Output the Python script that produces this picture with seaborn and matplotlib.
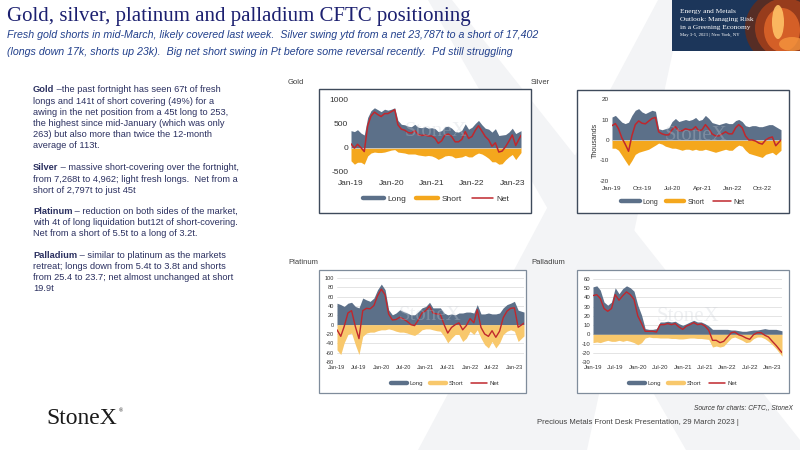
import numpy as np
import pandas as pd
import matplotlib
matplotlib.use("Agg")
import matplotlib.pyplot as plt
import matplotlib.dates as mdates
import seaborn as sns
from matplotlib.patches import Rectangle, Polygon, Ellipse
from matplotlib.lines import Line2D

# ---------------- data (monthly readings, Jan-2019 .. Mar-2023) ----------------
dates = list(pd.date_range("2019-01-01", "2023-02-01", freq="MS")) + [pd.Timestamp("2023-03-21")]

gold_long = [350, 330, 370, 300, 260, 620, 760, 820, 780, 740, 790, 770,
             790, 820, 560, 480, 470, 440, 430, 480, 420, 410, 430, 400,
             410, 390, 330, 350, 430, 440, 400, 330, 320, 360, 490, 380,
             420, 500, 560, 470, 400, 380, 320, 390, 250, 260, 270, 320,
             400, 290, 350]
gold_short = [-270, -340, -300, -300, -340, -170, -110, -90, -100, -100, -90, -70,
              -50, -40, -90, -100, -110, -130, -130, -130, -150, -160, -170, -160,
              -170, -200, -240, -210, -170, -160, -170, -210, -200, -190, -160, -190,
              -190, -140, -110, -130, -170, -220, -290, -290, -340, -330, -250, -190,
              -140, -245, -100]
gold_net = [80, -10, 70, 0, -80, 450, 650, 730, 680, 640, 700, 700,
            740, 780, 470, 380, 360, 310, 300, 350, 270, 250, 260, 240,
            240, 190, 90, 140, 260, 280, 230, 120, 120, 170, 330, 190,
            230, 360, 450, 340, 230, 160, 30, 100, -90, -70, 20, 130,
            260, 45, 253]

silver_long = [11.2, 12, 10.4, 8.7, 8, 8.7, 12, 14.5, 15.3, 13.7, 12.9, 13.7,
               14.5, 14.0, 5.5, 5, 5.5, 6, 9, 10.5, 9, 9.5, 10, 9.5,
               10, 11, 9.5, 10, 12, 10.5, 8.5, 8, 7.5, 8, 8.5, 8,
               8, 9.5, 10, 9, 7, 6.5, 7, 7, 6.5, 6.5, 7, 7.5,
               7.5, 6.5, 5]
silver_short = [-4, -4, -5, -7.5, -10, -12.5, -10, -7, -6, -5.5, -5, -4.5,
                -3.5, -2.5, -1.5, -2, -3, -3.5, -4, -4, -4.5, -5, -4.5, -4.5,
                -5, -4.5, -5, -5, -4.5, -5, -5.5, -6, -5.5, -5, -4.5, -5,
                -5, -3.5, -2.5, -3, -5, -6.5, -7, -7.5, -8, -8.5, -7, -6.5,
                -6, -7.3, -5]
silver_net = [7, 8, 5.5, 1, -2, -5.5, 2, 7.5, 9.3, 8.2, 7.9, 9.2,
              10.5, 11, 4, 3, 2.5, 2.5, 5, 6.5, 4.5, 4.5, 5.5, 5,
              5, 6.5, 4.5, 5, 7.5, 5.5, 3, 2, 2, 3, 4, 3,
              3, 6, 7.5, 6, 2, 0, 0, -0.5, -1.5, -2, 0, 1,
              1.5, -2.8, 0.05]

plat_long = [46, 43, 39, 46, 48, 39, 36, 57, 53, 50, 57, 75,
             87, 75, 32, 21, 25, 32, 28, 25, 21, 21, 28, 36,
             39, 48, 36, 36, 36, 25, 21, 23, 21, 25, 25, 27,
             27, 25, 43, 23, 23, 25, 23, 23, 25, 36, 43, 46,
             50, 31, 27]
plat_short = [-54, -64, -39, -21, -18, -43, -64, -25, -18, -16, -16, -13,
              -11, -11, -9, -11, -14, -16, -16, -18, -21, -23, -18, -11,
              -9, -9, -11, -13, -14, -25, -39, -29, -21, -21, -36, -29,
              -14, -21, -11, -29, -43, -50, -36, -50, -39, -21, -14, -11,
              -14, -36, -24]
plat_net = [-11, -25, -4, 25, 30, -4, -30, 30, 35, 34, 41, 62,
            76, 64, 23, 10, 11, 16, 12, 7, 0, -2, 10, 25,
            30, 40, 25, 23, 22, 0, -18, -6, 0, 4, -11, -2,
            13, 4, 32, -6, -20, -25, -13, -27, -14, 15, 29, 35,
            36, -5.5, 3.2]

pall_long = [51.5, 52.6, 48, 35, 31.6, 35, 50.5, 44, 49.7, 52.6, 50.5, 46.8,
             31.6, 20.7, 6.2, 5.4, 5.4, 6.2, 13.4, 13.4, 14.2, 13.4, 14.2, 11.6,
             9.8, 11.6, 13.4, 15.2, 13.4, 13.4, 11.6, 9.1, 5.4, 5.4, 5.4, 5.4,
             5.4, 4.7, 4.7, 4.0, 3.3, 3.3, 4.0, 4.7, 4.7, 5.4, 6.2, 5.4,
             5.4, 5.4, 3.8]
pall_short = [-9, -8.3, -9, -7.6, -6.5, -7.6, -7.6, -6.5, -7.6, -6.5, -7.6, -9,
              -11.3, -9, -4, -2.9, -3.6, -3.6, -4, -4, -4, -4.5, -4.5, -5,
              -5, -4.5, -4, -4, -4.5, -4.5, -5, -5.5, -13.8, -12.7, -13.8, -12.7,
              -8.3, -4, -2.9, -4.7, -6.5, -9, -8.3, -4.7, -2.9, -2.9, -4.7, -7.6,
              -11.3, -15.6, -23.7]
pall_net = [42, 43, 39, 28, 25, 28, 43, 37, 42, 46, 43, 38,
            20, 11.6, 3.3, 3.3, 3.3, 2.5, 10.5, 10.5, 11.6, 10.5, 11.6, 8,
            5.4, 9, 10.5, 12.7, 10.5, 11.3, 9, 4.4, -6.5, -6.5, -9, -7.6,
            -2.9, 1.8, 2.5, -0.4, -1.8, -4, -5.4, -0.4, 1.8, 1.8, -1, -2.9,
            -7.6, -12, -19.9]

series_labels = ["Long", "Short", "Net"]
gold_xticks = ["2019-01-01", "2020-01-01", "2021-01-01", "2022-01-01", "2023-01-01"]
gold_xlabels = ["Jan-19", "Jan-20", "Jan-21", "Jan-22", "Jan-23"]
silver_xticks = ["2019-01-01", "2019-10-01", "2020-07-01", "2021-04-01", "2022-01-01", "2022-10-01"]
silver_xlabels = ["Jan-19", "Oct-19", "Jul-20", "Apr-21", "Jan-22", "Oct-22"]
pp_xticks = ["2019-01-01", "2019-07-01", "2020-01-01", "2020-07-01", "2021-01-01", "2021-07-01",
             "2022-01-01", "2022-07-01", "2023-01-01"]
pp_xlabels = ["Jan-19", "Jul-19", "Jan-20", "Jul-20", "Jan-21", "Jul-21", "Jan-22", "Jul-22", "Jan-23"]

# ---------------- style ----------------
sns.set_theme(style="white")
plt.rcParams["font.family"] = ["Liberation Sans", "DejaVu Sans"]

W, H = 800, 450
fig = plt.figure(figsize=(8, 4.5), dpi=100)
fig.patch.set_facecolor("white")

def P(x, y):
    return (x / W, 1 - y / H)

def R(x0, y0, x1, y1):
    return [x0 / W, 1 - y1 / H, (x1 - x0) / W, (y1 - y0) / H]

LONG_C = "#5c7089"
GOLD_SHORT_C = "#f4a71d"
PP_SHORT_C = "#f8c86c"
NET_C = "#c0272d"
TEXT_C = "#2b3060"

# faint background X
for pts in [[(428, 0), (452, 0), (800, 440), (800, 450), (686, 450)],
            [(658, 0), (684, 0), (587, 450), (418, 450)]]:
    fig.add_artist(Polygon([P(x, y) for x, y in pts], closed=True, transform=fig.transFigure,
                           facecolor="#f3f4f6", edgecolor="none", zorder=-5))

xnum = mdates.date2num(dates)
x0 = mdates.date2num(pd.Timestamp("2019-01-01"))
x1 = mdates.date2num(pd.Timestamp("2023-03-21"))


def draw_chart(ax_rect, frame_rect, frame_c, frame_lw, long, short, net, short_c,
               ylim, yticks, xticks, xlabels, fs, leg_xy, leg_fs, grid, name, name_xy,
               ylabel=None, wm_fs=16, xpad=2, net_lw=1.1):
    fig.add_artist(Rectangle((frame_rect[0], frame_rect[1]), frame_rect[2], frame_rect[3],
                             transform=fig.transFigure, facecolor="white",
                             edgecolor=frame_c, lw=frame_lw, zorder=-1))
    ax = fig.add_axes(ax_rect)
    ax.set_facecolor("none")
    df = pd.DataFrame({"x": xnum, "long": long, "short": short, "net": net})
    ax.fill_between(df["x"], 0, df["long"], color=LONG_C, lw=0, zorder=2)
    ax.fill_between(df["x"], df["short"], 0, color=short_c, lw=0, zorder=2)
    sns.lineplot(data=df, x="x", y="net", ax=ax, color=NET_C, lw=net_lw, zorder=4)
    ax.set_xlim(x0, x1)
    ax.set_ylim(*ylim)
    ax.set_yticks(yticks)
    ax.set_yticklabels([str(v) for v in yticks])
    ax.set_xticks(mdates.date2num(pd.to_datetime(xticks)))
    ax.set_xticklabels(xlabels)
    ax.tick_params(axis="both", length=0, labelsize=fs, colors="#333333", pad=2)
    ax.tick_params(axis="x", pad=xpad)
    ax.set_xlabel("")
    ax.set_ylabel("")
    for s in ax.spines.values():
        s.set_visible(False)
    if grid:
        for v in yticks:
            ax.axhline(v, color="#d9d9d9", lw=0.5, zorder=1)
    else:
        ax.axhline(0, color="#c8c8c8", lw=0.6, zorder=3)
    if ylabel:
        ax.set_ylabel(ylabel, fontsize=fs + 0.5, color="#333333", labelpad=1)
    ax.text(0.5, 0.55, "StoneX", transform=ax.transAxes, ha="center", va="center",
            family=["Liberation Serif", "DejaVu Serif"], fontsize=wm_fs, color="#c9ced6",
            alpha=0.3, zorder=5)
    handles = [Line2D([], [], color=LONG_C, lw=3.2),
               Line2D([], [], color=short_c, lw=3.2),
               Line2D([], [], color=NET_C, lw=1.1)]
    fig.legend(handles, series_labels, loc="center", bbox_to_anchor=P(*leg_xy),
               bbox_transform=fig.transFigure, ncol=3, frameon=False, fontsize=leg_fs,
               handlelength=2.6, handletextpad=0.4, columnspacing=1.2, labelcolor="#333333")
    fig.text(*P(*name_xy), name, fontsize=5.5, color="#404040", ha="left", va="center")
    return ax


draw_chart(R(351, 99, 521, 172), R(319, 89, 531, 213), "#3e4a5b", 1.0,
           gold_long, gold_short, gold_net, GOLD_SHORT_C,
           (-500, 1000), [-500, 0, 500, 1000], gold_xticks, gold_xlabels, 6.0,
           (436, 199), 6.0, False, "Gold", (288, 83), wm_fs=15, xpad=5.5)
draw_chart(R(612, 99, 781, 181), R(577, 90, 789, 213), "#3e4a5b", 1.0,
           silver_long, silver_short, silver_net, GOLD_SHORT_C,
           (-20, 20), [-20, -10, 0, 10, 20], silver_xticks, silver_xlabels, 4.6,
           (683, 202), 5.0, False, "Silver", (531, 83), ylabel="Thousands", wm_fs=15, xpad=3.5)
draw_chart(R(337, 278, 524, 362), R(319, 270, 526, 393), "#7f8c9b", 0.9,
           plat_long, plat_short, plat_net, PP_SHORT_C,
           (-80, 100), list(range(-80, 101, 20)), pp_xticks, pp_xlabels, 4.1,
           (445, 383), 4.4, True, "Platinum", (288, 262), wm_fs=15, net_lw=1.0)
draw_chart(R(593, 279, 782, 362), R(577, 270, 789, 393), "#7f8c9b", 0.9,
           pall_long, pall_short, pall_net, PP_SHORT_C,
           (-30, 60), list(range(-30, 61, 10)), pp_xticks, pp_xlabels, 4.3,
           (683, 383), 4.4, True, "Palladium", (531, 262), wm_fs=15, net_lw=1.0)

# ---------------- title / subtitle ----------------
fig.text(*P(7, 17), "Gold, silver, platinum and palladium CFTC positioning",
         family=["Liberation Serif", "DejaVu Serif"], fontsize=15, color="#1c2070",
         ha="left", va="center")
sub_font = ["Liberation Sans Narrow", "Liberation Sans", "DejaVu Sans"]
fig.text(*P(7, 35), "Fresh gold shorts in mid-March, likely covered last week.  Silver swing ytd from a net 23,787t to a short of 17,402",
         family=sub_font, style="italic", fontsize=7.7, color="#22408c", ha="left", va="center")
fig.text(*P(7, 52), "(longs down 17k, shorts up 23k).  Big net short swing in Pt before some reversal recently.  Pd still struggling",
         family=sub_font, style="italic", fontsize=7.7, color="#22408c", ha="left", va="center")

# ---------------- banner ----------------
banner = Rectangle(P(672, 51), 128 / W, 51 / H, transform=fig.transFigure,
                   facecolor="#1c365a", edgecolor="none", zorder=1)
fig.add_artist(banner)
for (cx, cy, w, h, c, a) in [(790, 28, 90, 80, "#6b2a14", 0.75), (785, 28, 60, 60, "#a8401a", 0.8),
                             (782, 30, 36, 44, "#e0662a", 0.85), (778, 22, 12, 34, "#ffc266", 0.9),
                             (792, 44, 26, 14, "#f5953e", 0.8)]:
    e = Ellipse(P(cx, cy), w / W, h / H, transform=fig.transFigure, facecolor=c,
                edgecolor="none", alpha=a, zorder=2)
    fig.add_artist(e)
    e.set_clip_path(banner)
serif = ["Liberation Serif", "DejaVu Serif"]
for txt, y, fs in [("Energy and Metals", 12, 5.3), ("Outlook: Managing Risk", 19.5, 5.3),
                   ("in a Greening Economy", 27, 5.3), ("May 3-5, 2023 | New York, NY", 34.5, 3.4)]:
    fig.text(*P(680, y), txt, family=serif, fontsize=fs, color="white", ha="left",
             va="center", zorder=3)

# ---------------- left commentary ----------------
paras = [
    ("Gold", " \u2013the past fortnight has seen 67t of fresh",
     ["longs and 141t of short covering (49%) for a",
      "awing in the net position from a 45t long to 253,",
      "the highest since mid-January (which was only",
      "263) but also more than twice the 12-month",
      "average of 113t."], 90),
    ("Silver", " \u2013 massive short-covering over the fortnight,",
     ["from 7,268t to 4,962; light fresh longs.  Net from a",
      "short of 2,797t to just 45t"], 168),
    ("Platinum", " \u2013 reduction on both sides of the market,",
     ["with 4t of long liquidation but12t of short-covering.",
      "Net from a short of 5.5t to a long of 3.2t."], 211),
    ("Palladium", " \u2013 similar to platinum as the markets",
     ["retreat; longs down from 5.4t to 3.8t and shorts",
      "from 25.4 to 23.7; net almost unchanged at short",
      "19.9t"], 255),
]
BODY_FS = 6.7
LSP = 11.2
for bold, rest, lines, y in paras:
    t = fig.text(*P(33, y), bold, fontsize=BODY_FS, weight="bold", color=TEXT_C,
                 ha="left", va="center")
    ann = plt.annotate(rest, xy=(1, 0.5), xycoords=t, fontsize=BODY_FS, color=TEXT_C,
                       ha="left", va="center", annotation_clip=False)
    for i, ln in enumerate(lines):
        fig.text(*P(33, y + LSP * (i + 1)), ln, fontsize=BODY_FS, color=TEXT_C,
                 ha="left", va="center")

# ---------------- footer ----------------
fig.text(*P(46, 419), "StoneX", family=serif, fontsize=17, color="#1a1a1a",
         ha="left", va="center")
fig.text(*P(119, 411), "\u00ae", family=serif, fontsize=4, color="#1a1a1a",
         ha="left", va="center")
fig.text(*P(793, 408), "Source for charts: CFTC,, StoneX", fontsize=4.8, style="italic",
         color="#333333", ha="right", va="center")
fig.text(*P(537, 423), "Precious Metals Front Desk Presentation, 29 March 2023 |",
         family=sub_font, fontsize=5.6, color="#404040", ha="left", va="center")

fig.savefig("out.png", dpi=100)
